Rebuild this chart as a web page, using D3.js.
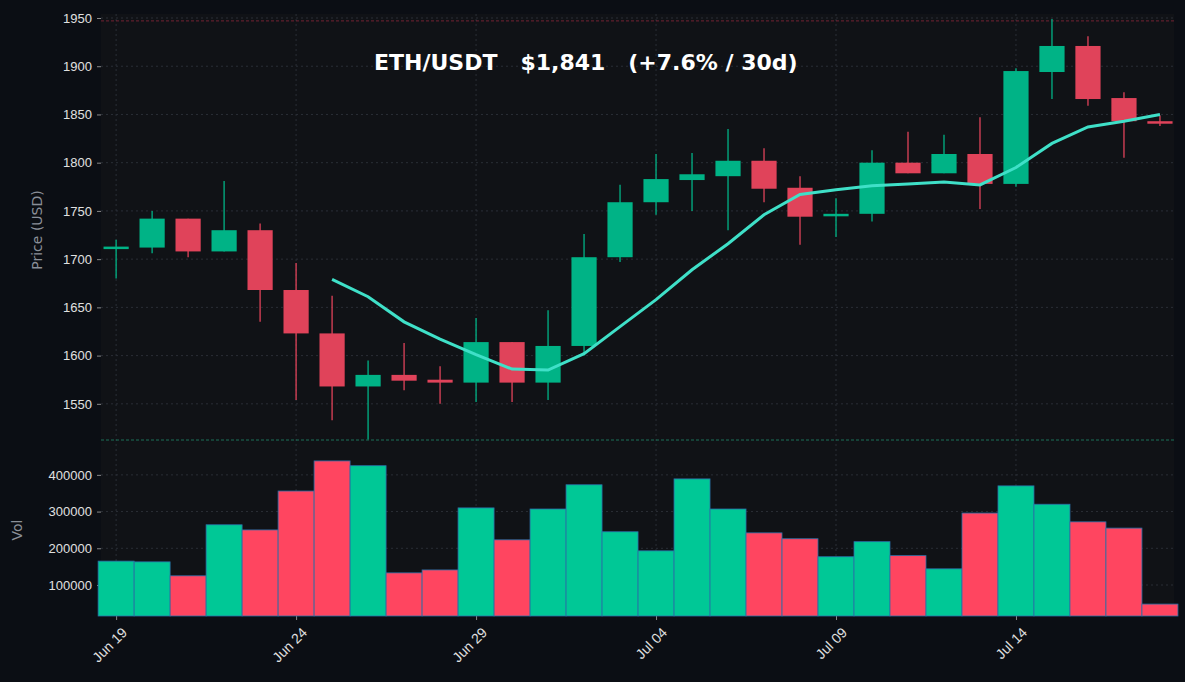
<!DOCTYPE html>
<html>
<head>
<meta charset="utf-8">
<style>
  body { margin: 0; background: #0b0e14; font-family: 'DejaVu Sans', sans-serif; }
  .tick text { fill: #e0e0e0; font-size: 13px; }
  .x .tick text { font-size: 14px; }
  .tick line { stroke: #888; }
  .domain { display: none; }
  .grid line { stroke: #2a2e36; stroke-dasharray: 2,3; }
</style>
</head>
<body>
<svg width="1185" height="682"></svg>
<script src="https://d3js.org/d3.v7.min.js"></script>
<script>
// daily candles Jun 19 - Jul 18
let dates = d3.range(30).map(i => new Date(2023, 5, 19 + i))
let opens  = [1712,1712,1742,1708,1730,1668,1623,1568,1580,1575,1572,1614,1572,1610,1702,1759,1782,1786,1802,1774,1745,1747,1800,1789,1809,1778,1894,1921,1867,1843]
let highs  = [1720,1750,1742,1781,1737,1696,1662,1595,1613,1589,1639,1614,1647,1726,1777,1809,1810,1835,1815,1786,1763,1813,1832,1829,1847,1898,1949,1931,1873,1849]
let lows   = [1680,1706,1702,1708,1635,1554,1533,1513,1564,1550,1552,1552,1554,1600,1697,1746,1750,1730,1759,1715,1723,1739,1789,1789,1752,1775,1866,1859,1805,1838]
let closes = [1713,1742,1708,1730,1668,1623,1568,1580,1574,1572,1614,1572,1610,1702,1759,1783,1788,1802,1773,1744,1747,1800,1789,1809,1778,1895,1921,1866,1843,1842]
let volumes = [165000,163000,125000,264000,250000,356000,438000,425000,133000,141000,310000,223000,307000,373000,245000,193000,389000,307000,242000,226000,177000,218000,180000,144000,296000,370000,320000,272000,255000,48000]
let volUp = [1,1,0,1,0,0,0,1,0,0,1,0,1,1,1,1,1,1,0,0,1,1,0,1,0,1,1,0,0,0]
let maValues = [null,null,null,null,null,null,1679,1661,1635,1617,1601,1586,1585,1602,1630,1658,1689,1716,1746,1767,1772,1776,1778,1780,1777,1795,1820,1837,1843,1850]
let priceTicks = [1550,1600,1650,1700,1750,1800,1850,1900,1950]
let volTicks = [100000,200000,300000,400000]
let dateTicks = [0,5,10,15,20,25].map(i => dates[i])
let athLevel = 1947

let data = dates.map((d, i) => ({ date: d, o: opens[i], h: highs[i], l: lows[i], c: closes[i], v: volumes[i], up: volUp[i], ma: maValues[i] }))

let svg = d3.select("svg")
let left = 101, right = 1174
let day = 864e5

let x = d3.scaleTime()
  .domain([new Date(dates[0].getTime() - 0.42 * day), new Date(dates[29].getTime() + 0.39 * day)])
  .range([left, right])
let bw = x(dates[1]) - x(dates[0])

let y = d3.scaleLinear().domain([1512.5, 1950]).range([440, 18])
let yv = d3.scaleLinear().domain([15500, 495000]).range([616, 440])

// panel background
svg.append("rect").attr("x", left).attr("y", 14).attr("width", right - left).attr("height", 602).attr("fill", "#101216")

// grids
svg.append("g").attr("class", "grid")
  .selectAll("line").data(priceTicks).join("line")
  .attr("x1", left).attr("x2", right).attr("y1", d => y(d)).attr("y2", d => y(d))
svg.append("g").attr("class", "grid")
  .selectAll("line").data(volTicks).join("line")
  .attr("x1", left).attr("x2", right).attr("y1", d => yv(d)).attr("y2", d => yv(d))
svg.append("g").attr("class", "grid")
  .selectAll("line").data(dateTicks).join("line")
  .attr("x1", d => x(d)).attr("x2", d => x(d)).attr("y1", 14).attr("y2", 616)

// axes
svg.append("g").attr("class", "y axis")
  .attr("transform", `translate(${left},0)`)
  .call(d3.axisLeft(y).tickValues(priceTicks).tickSize(4).tickPadding(5).tickFormat(d3.format("d")))
svg.append("g").attr("class", "y axis")
  .attr("transform", `translate(${left},0)`)
  .call(d3.axisLeft(yv).tickValues(volTicks).tickSize(4).tickPadding(5).tickFormat(d3.format("d")))
let xAxis = svg.append("g").attr("class", "x axis")
  .attr("transform", "translate(0,616)")
  .call(d3.axisBottom(x).tickValues(dateTicks).tickSize(4).tickFormat(d3.timeFormat("%b %d")))
xAxis.attr("font-size", 14)
xAxis.selectAll(".tick text")
  .attr("text-anchor", "end")
  .attr("x", 0).attr("y", 0).attr("dy", "0.35em")
  .attr("transform", "translate(8,14) rotate(-45)")

// reference lines
svg.append("line").attr("x1", left).attr("x2", right).attr("y1", y(athLevel)).attr("y2", y(athLevel))
  .attr("stroke", "#c0304a").attr("stroke-width", 0.8).attr("stroke-dasharray", "3,2").attr("opacity", 0.7)
svg.append("line").attr("x1", left).attr("x2", right).attr("y1", 440).attr("y2", 440)
  .attr("stroke", "#1f8a6a").attr("stroke-width", 0.8).attr("stroke-dasharray", "3,2")

// candles
let green = "#00b386", red = "#e0435a"
let candles = svg.append("g").selectAll("g").data(data).join("g")
candles.append("line")
  .attr("x1", d => x(d.date)).attr("x2", d => x(d.date))
  .attr("y1", d => y(d.h)).attr("y2", d => y(d.l))
  .attr("stroke", d => d.c >= d.o ? green : red).attr("stroke-width", 1.3)
candles.append("rect")
  .attr("x", d => x(d.date) - bw * 0.35).attr("width", bw * 0.7)
  .attr("y", d => y(Math.max(d.o, d.c)))
  .attr("height", d => Math.max(2.5, Math.abs(y(d.o) - y(d.c))))
  .attr("fill", d => d.c >= d.o ? green : red)

// moving average
svg.append("path")
  .datum(data.filter(d => d.ma != null))
  .attr("fill", "none").attr("stroke", "#3fe0c8").attr("stroke-width", 3)
  .attr("d", d3.line().x(d => x(d.date)).y(d => y(d.ma)))

// volume bars
svg.append("g").selectAll("rect").data(data).join("rect")
  .attr("x", d => x(d.date) - bw / 2).attr("width", bw)
  .attr("y", d => yv(d.v)).attr("height", d => 616 - yv(d.v))
  .attr("fill", d => d.up ? "#00c896" : "#ff4560")
  .attr("stroke", "#2a6fa8").attr("stroke-width", 0.8)

// labels
svg.append("text").attr("transform", "translate(42,230) rotate(-90)")
  .attr("text-anchor", "middle").attr("fill", "#8a8f98").style("font-size", "14px").text("Price (USD)")
svg.append("text").attr("transform", "translate(22,530) rotate(-90)")
  .attr("text-anchor", "middle").attr("fill", "#8a8f98").style("font-size", "14px").text("Vol")
svg.append("text").attr("x", 374).attr("y", 70)
  .attr("fill", "white").style("font-size", "22px").style("font-weight", "bold")
  .attr("xml:space", "preserve")
  .text("ETH/USDT   $1,841   (+7.6% / 30d)")
</script>
</body>
</html>
